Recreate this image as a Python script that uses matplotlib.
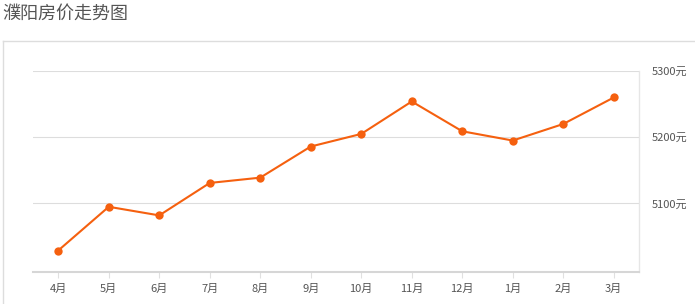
import matplotlib
matplotlib.use('Agg')
import matplotlib.pyplot as plt
from matplotlib.lines import Line2D

plt.rcParams['font.family'] = ['Noto Sans CJK SC', 'DejaVu Sans']

months = ['4月', '5月', '6月', '7月', '8月', '9月', '10月', '11月', '12月', '1月', '2月', '3月']
prices = [5029, 5095, 5082, 5131, 5139, 5186, 5205, 5254, 5209, 5195, 5220, 5260]
y_ticks = [5100, 5200, 5300]
y_labels = ['5100元', '5200元', '5300元']

W, H = 695, 304
fig = plt.figure(figsize=(W / 100, H / 100), dpi=100)
fig.patch.set_facecolor('white')

# title
fig.text(2 / W, 1 - 14 / H, '濮阳房价走势图', fontsize=13, color='#555555',
         ha='left', va='center')

# outer panel border
fig.add_artist(Line2D([2.5 / W, 2.5 / W], [0, 1 - 40.5 / H], color='#dddddd', lw=1))
fig.add_artist(Line2D([2.5 / W, 1], [1 - 40.5 / H, 1 - 40.5 / H], color='#dddddd', lw=1))

ax = fig.add_axes([33 / W, 32.3 / H, (639 - 33) / W, (271.7 - 71) / H])
x = range(len(months))
ax.plot(x, prices, color='#f5600f', lw=1.5, marker='o', markersize=6,
        markeredgewidth=0, zorder=3)

ax.set_xlim(-0.5, len(months) - 0.5)
ax.set_ylim(4997, 5300)
ax.set_xticks(list(x))
ax.set_xticklabels(months, fontsize=8, color='#555555')
ax.yaxis.tick_right()
ax.set_yticks(y_ticks)
ax.set_yticklabels(y_labels, fontsize=8, color='#555555')
ax.tick_params(axis='y', length=0, pad=9)
ax.tick_params(axis='x', length=4, color='#e0e0e0', pad=5)

ax.grid(axis='y', color='#dddddd', lw=0.8)
ax.set_axisbelow(True)
for s in ['top', 'left']:
    ax.spines[s].set_visible(False)
ax.spines['right'].set_color('#e6e6e6')
ax.spines['right'].set_linewidth(1)
ax.spines['bottom'].set_color('#d6d6d6')
ax.spines['bottom'].set_linewidth(1.5)

fig.savefig('out.png', dpi=100)
